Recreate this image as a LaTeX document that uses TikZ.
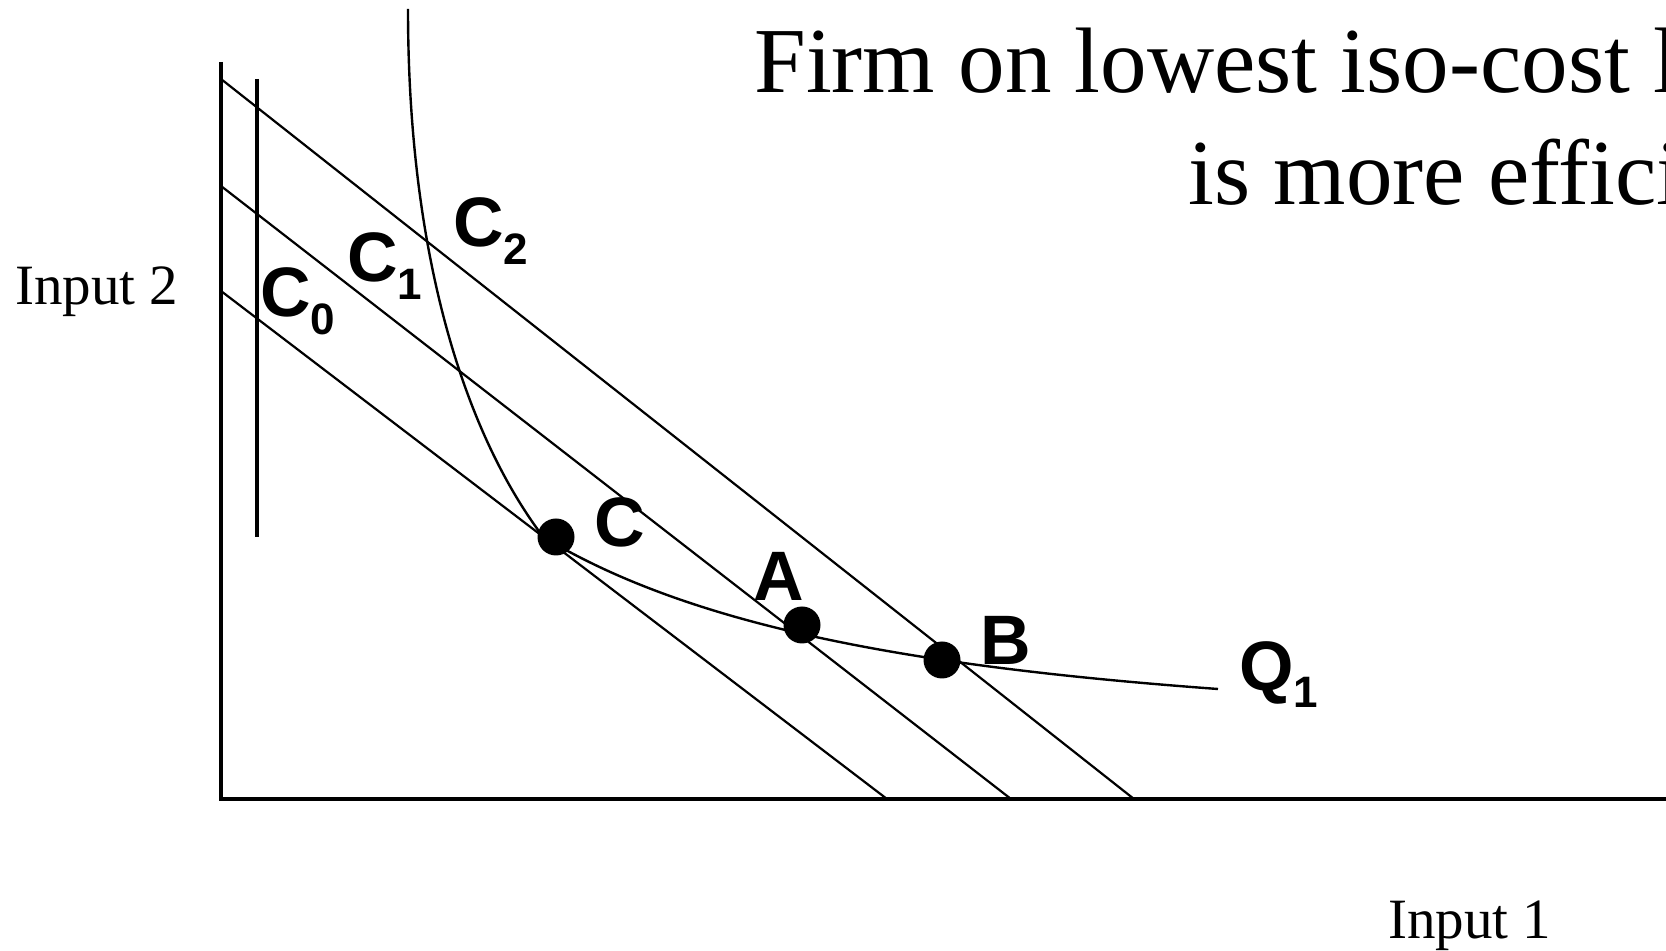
\documentclass[tikz,border=0pt]{standalone}
\usepackage{fontspec}
\setmainfont{Liberation Serif}
\newfontfamily\lblfont{Liberation Sans}
\newcommand\subsz{\fontsize{22}{22}\selectfont}
\begin{document}
\begin{tikzpicture}[x=0.5pt,y=-0.5pt,
  axisline/.style={line width=1.8pt},
  isoline/.style={line width=1.1pt},
  quantline/.style={line width=1.2pt},
  bigdot/.style={circle,fill=black,minimum size=18.5pt,inner sep=0pt},
  lbl/.style={font=\lblfont\bfseries\fontsize{35}{35}\selectfont,anchor=base west,inner sep=0pt},
  axtxt/.style={font=\fontsize{28.5}{30}\selectfont,anchor=base west,inner sep=0pt},
  ttl/.style={font=\fontsize{46.5}{50}\selectfont,anchor=base west,inner sep=0pt}]
\useasboundingbox (0,0) rectangle (1666,951);
\clip (0,0) rectangle (1666,951);

% axes
\coordinate (yaxtop) at (221,62);
\coordinate (origin) at (221,799);
\coordinate (xaxend) at (1670,799);
\draw[axisline] (yaxtop) -- (origin) -- (xaxend);

% second vertical line
\coordinate (vtop) at (257,79);
\coordinate (vbot) at (257,537);
\draw[axisline] (vtop) -- (vbot);

% iso-cost lines
\coordinate (c2a) at (221,79);  \coordinate (c2b) at (1134,799);
\coordinate (c1a) at (221,186); \coordinate (c1b) at (1011,799);
\coordinate (c0a) at (221,291); \coordinate (c0b) at (887,799);
\draw[isoline] (c2a) -- (c2b);
\draw[isoline] (c1a) -- (c1b);
\draw[isoline] (c0a) -- (c0b);

% isoquant Q1 (corner hidden under dot C)
\coordinate (qtop) at (408,9);
\coordinate (qc1) at (541,534);
\coordinate (qc2) at (545,538);
\coordinate (qend) at (1218,689);
\draw[quantline,line join=round] (qtop) .. controls (408,259) and (466,433) .. (qc1)
  -- (qc2) .. controls (695,628) and (918,667) .. (qend);

% dots
\node[bigdot] (C) at (556,537) {};
\node[bigdot] (A) at (802,625) {};
\node[bigdot] (B) at (942,660) {};

% labels
\node[lbl] (c0lbl) at (260,317) {C\raisebox{-9pt}{\subsz 0}};
\node[lbl] (c1lbl) at (347,282) {C\raisebox{-9pt}{\subsz 1}};
\node[lbl] (c2lbl) at (453,247) {C\raisebox{-9pt}{\subsz 2}};
\node[lbl] (Clbl) at (594,547) {C};
\node[lbl] (Albl) at (753,601) {A};
\node[lbl] (Blbl) at (980,665) {B};
\node[lbl] (Qlbl) at (1239,690) {Q\raisebox{-9pt}{\subsz 1}};

% axis titles
\node[axtxt] (in2) at (15,305) {Input 2};
\node[axtxt] (in1) at (1388,938) {Input 1};

% title (cut off at the right edge, as in the reference)
\node[ttl] (t1) at (754,93) {Firm on lowest iso-cost line};
\node[ttl] (t2) at (1188,205) {is more efficient};
\end{tikzpicture}
\end{document}
